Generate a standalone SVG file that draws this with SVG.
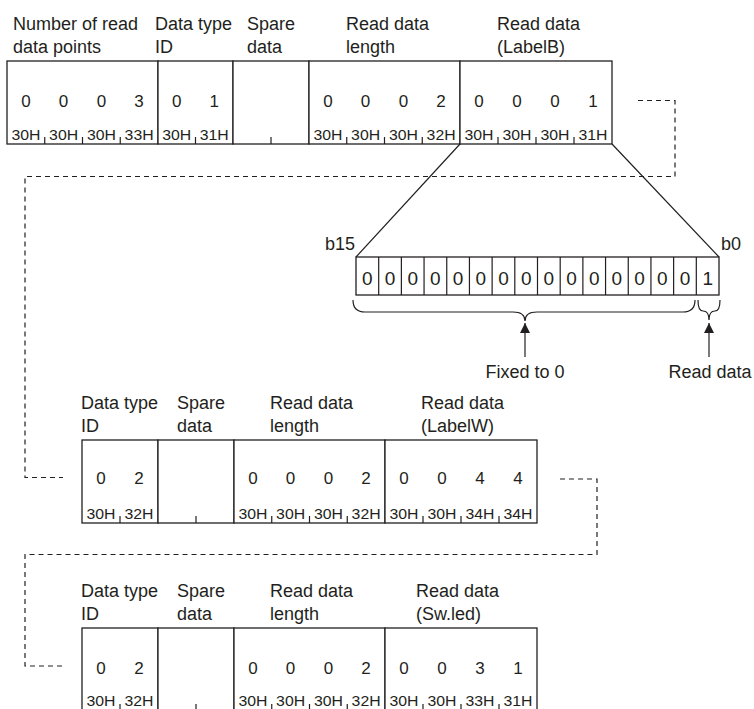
<svg xmlns="http://www.w3.org/2000/svg" width="754" height="709" viewBox="0 0 754 709">
<defs>
<style>
.t{font-family:"Liberation Sans",Arial,sans-serif;font-size:18px;fill:#231f20}
.d{font-family:"Liberation Sans",Arial,sans-serif;font-size:17px;fill:#231f20;text-anchor:middle}
.bd{font-family:"Liberation Sans",Arial,sans-serif;font-size:19px;fill:#231f20;text-anchor:middle}
.h{font-family:"Liberation Sans",Arial,sans-serif;font-size:14px;fill:#231f20;text-anchor:middle}
.box{fill:#fff;stroke:#231f20;stroke-width:1.3}
.ln{fill:none;stroke:#231f20;stroke-width:1.2}
.dash{fill:none;stroke:#231f20;stroke-width:1.2;stroke-dasharray:5 4}
</style>
<marker id="arr" viewBox="0 0 10 10" refX="10" refY="5" markerWidth="10" markerHeight="10" markerUnits="userSpaceOnUse" orient="auto">
<path d="M0,0 L10,5 L0,10 Z" fill="#231f20"/>
</marker>
</defs>
<rect width="754" height="709" fill="#fff"/>

<!-- connectors -->
<g id="connectors">
<path class="dash" d="M638 100.5 H675 V176.5 H25 V477.5 H63"/>
<path class="dash" d="M560 479 H597 V554.5 H25 V666 H63"/>
<line class="ln" x1="460" y1="144" x2="356" y2="257"/>
<line class="ln" x1="612" y1="144" x2="719" y2="257"/>
<path class="ln" d="M353 300 Q353 312 365 312 H513 Q525 312 525 321 Q525 312 537 312 H683 Q695 312 695 300"/>
<path class="ln" d="M698 300 Q698 311 703 311 Q709 311 709 320 Q709 311 715 311 Q720 311 720 300"/>
<line class="ln" x1="525" y1="357" x2="525" y2="323" marker-end="url(#arr)"/>
<line class="ln" x1="709" y1="357" x2="709" y2="323" marker-end="url(#arr)"/>
</g>

<!-- Row 1 -->
<g id="row1-headers">
<text class="t" x="13" y="30">Number of read</text>
<text class="t" x="13" y="53">data points</text>
<text class="t" x="155" y="30">Data type</text>
<text class="t" x="155" y="53">ID</text>
<text class="t" x="247" y="30">Spare</text>
<text class="t" x="247" y="53">data</text>
<text class="t" x="346" y="30">Read data</text>
<text class="t" x="346" y="53">length</text>
<text class="t" x="497" y="30">Read data</text>
<text class="t" x="497" y="53">(LabelB)</text>
</g>
<g id="row1-points">
<rect class="box" x="7" y="61" width="151" height="83"/>
<path class="ln" d="M44.75 144 v-7 M82.5 144 v-7 M120.25 144 v-7"/>
<text class="d" x="25.9" y="107">0</text><text class="d" x="63.6" y="107">0</text><text class="d" x="101.4" y="107">0</text><text class="d" x="139.1" y="107">3</text>
<text class="h" x="25.9" y="140" textLength="29" lengthAdjust="spacingAndGlyphs">30H</text><text class="h" x="63.6" y="140" textLength="29" lengthAdjust="spacingAndGlyphs">30H</text><text class="h" x="101.4" y="140" textLength="29" lengthAdjust="spacingAndGlyphs">30H</text><text class="h" x="139.1" y="140" textLength="29" lengthAdjust="spacingAndGlyphs">33H</text>
</g>
<g id="row1-type">
<rect class="box" x="158" y="61" width="75" height="83"/>
<path class="ln" d="M195.5 144 v-7"/>
<text class="d" x="176.75" y="107">0</text><text class="d" x="214.25" y="107">1</text>
<text class="h" x="176.75" y="140" textLength="29" lengthAdjust="spacingAndGlyphs">30H</text><text class="h" x="214.25" y="140" textLength="29" lengthAdjust="spacingAndGlyphs">31H</text>
</g>
<g id="row1-spare">
<rect class="box" x="233" y="61" width="76" height="83"/>
<path class="ln" d="M271 144 v-7"/>
</g>
<g id="row1-length">
<rect class="box" x="309" y="61" width="151" height="83"/>
<path class="ln" d="M346.75 144 v-7 M384.5 144 v-7 M422.25 144 v-7"/>
<text class="d" x="327.9" y="107">0</text><text class="d" x="365.6" y="107">0</text><text class="d" x="403.4" y="107">0</text><text class="d" x="441.1" y="107">2</text>
<text class="h" x="327.9" y="140" textLength="29" lengthAdjust="spacingAndGlyphs">30H</text><text class="h" x="365.6" y="140" textLength="29" lengthAdjust="spacingAndGlyphs">30H</text><text class="h" x="403.4" y="140" textLength="29" lengthAdjust="spacingAndGlyphs">30H</text><text class="h" x="441.1" y="140" textLength="29" lengthAdjust="spacingAndGlyphs">32H</text>
</g>
<g id="row1-labelB">
<rect class="box" x="460" y="61" width="152" height="83"/>
<path class="ln" d="M498 144 v-7 M536 144 v-7 M574 144 v-7"/>
<text class="d" x="479" y="107">0</text><text class="d" x="517" y="107">0</text><text class="d" x="555" y="107">0</text><text class="d" x="593" y="107">1</text>
<text class="h" x="479" y="140" textLength="29" lengthAdjust="spacingAndGlyphs">30H</text><text class="h" x="517" y="140" textLength="29" lengthAdjust="spacingAndGlyphs">30H</text><text class="h" x="555" y="140" textLength="29" lengthAdjust="spacingAndGlyphs">30H</text><text class="h" x="593" y="140" textLength="29" lengthAdjust="spacingAndGlyphs">31H</text>
</g>

<!-- bit detail -->
<g id="bits">
<text class="t" x="355" y="250" text-anchor="end">b15</text>
<text class="t" x="721" y="250">b0</text>
<rect class="box" x="356" y="257" width="363" height="38"/>
<path class="ln" d="M378.69 257 v38 M401.38 257 v38 M424.06 257 v38 M446.75 257 v38 M469.44 257 v38 M492.13 257 v38 M514.81 257 v38 M537.5 257 v38 M560.19 257 v38 M582.88 257 v38 M605.56 257 v38 M628.25 257 v38 M650.94 257 v38 M673.63 257 v38 M696.31 257 v38"/>
<text class="bd" x="367.3" y="284.5">0</text><text class="bd" x="390" y="284.5">0</text><text class="bd" x="412.7" y="284.5">0</text><text class="bd" x="435.4" y="284.5">0</text><text class="bd" x="458.1" y="284.5">0</text><text class="bd" x="480.8" y="284.5">0</text><text class="bd" x="503.5" y="284.5">0</text><text class="bd" x="526.2" y="284.5">0</text><text class="bd" x="548.8" y="284.5">0</text><text class="bd" x="571.5" y="284.5">0</text><text class="bd" x="594.2" y="284.5">0</text><text class="bd" x="616.9" y="284.5">0</text><text class="bd" x="639.6" y="284.5">0</text><text class="bd" x="662.3" y="284.5">0</text><text class="bd" x="685" y="284.5">0</text><text class="bd" x="707.7" y="284.5">1</text>
<text class="t" x="525" y="378" text-anchor="middle">Fixed to 0</text>
<text class="t" x="710" y="378" text-anchor="middle">Read data</text>
</g>

<!-- Row 2 -->
<g id="row2-headers">
<text class="t" x="81" y="409">Data type</text>
<text class="t" x="81" y="432">ID</text>
<text class="t" x="177" y="409">Spare</text>
<text class="t" x="177" y="432">data</text>
<text class="t" x="270" y="409">Read data</text>
<text class="t" x="270" y="432">length</text>
<text class="t" x="421" y="409">Read data</text>
<text class="t" x="421" y="432">(LabelW)</text>
</g>
<g id="row2-type">
<rect class="box" x="82" y="440" width="76" height="83"/>
<path class="ln" d="M120 523 v-7"/>
<text class="d" x="101" y="484">0</text><text class="d" x="139" y="484">2</text>
<text class="h" x="101" y="519" textLength="29" lengthAdjust="spacingAndGlyphs">30H</text><text class="h" x="139" y="519" textLength="29" lengthAdjust="spacingAndGlyphs">32H</text>
</g>
<g id="row2-spare">
<rect class="box" x="158" y="440" width="76" height="83"/>
<path class="ln" d="M196 523 v-7"/>
</g>
<g id="row2-length">
<rect class="box" x="234" y="440" width="151" height="83"/>
<path class="ln" d="M271.75 523 v-7 M309.5 523 v-7 M347.25 523 v-7"/>
<text class="d" x="252.9" y="484">0</text><text class="d" x="290.6" y="484">0</text><text class="d" x="328.4" y="484">0</text><text class="d" x="366.1" y="484">2</text>
<text class="h" x="252.9" y="519" textLength="29" lengthAdjust="spacingAndGlyphs">30H</text><text class="h" x="290.6" y="519" textLength="29" lengthAdjust="spacingAndGlyphs">30H</text><text class="h" x="328.4" y="519" textLength="29" lengthAdjust="spacingAndGlyphs">30H</text><text class="h" x="366.1" y="519" textLength="29" lengthAdjust="spacingAndGlyphs">32H</text>
</g>
<g id="row2-labelW">
<rect class="box" x="385" y="440" width="152" height="83"/>
<path class="ln" d="M423 523 v-7 M461 523 v-7 M499 523 v-7"/>
<text class="d" x="404" y="484">0</text><text class="d" x="442" y="484">0</text><text class="d" x="480" y="484">4</text><text class="d" x="518" y="484">4</text>
<text class="h" x="404" y="519" textLength="29" lengthAdjust="spacingAndGlyphs">30H</text><text class="h" x="442" y="519" textLength="29" lengthAdjust="spacingAndGlyphs">30H</text><text class="h" x="480" y="519" textLength="29" lengthAdjust="spacingAndGlyphs">34H</text><text class="h" x="518" y="519" textLength="29" lengthAdjust="spacingAndGlyphs">34H</text>
</g>

<!-- Row 3 -->
<g id="row3-headers">
<text class="t" x="81" y="597">Data type</text>
<text class="t" x="81" y="620">ID</text>
<text class="t" x="177" y="597">Spare</text>
<text class="t" x="177" y="620">data</text>
<text class="t" x="270" y="597">Read data</text>
<text class="t" x="270" y="620">length</text>
<text class="t" x="416" y="597">Read data</text>
<text class="t" x="416" y="620">(Sw.led)</text>
</g>
<g id="row3-type">
<rect class="box" x="82" y="628" width="76" height="83"/>
<path class="ln" d="M120 711 v-7"/>
<text class="d" x="101" y="674">0</text><text class="d" x="139" y="674">2</text>
<text class="h" x="101" y="706" textLength="29" lengthAdjust="spacingAndGlyphs">30H</text><text class="h" x="139" y="706" textLength="29" lengthAdjust="spacingAndGlyphs">32H</text>
</g>
<g id="row3-spare">
<rect class="box" x="158" y="628" width="76" height="83"/>
<path class="ln" d="M196 711 v-7"/>
</g>
<g id="row3-length">
<rect class="box" x="234" y="628" width="151" height="83"/>
<path class="ln" d="M271.75 711 v-7 M309.5 711 v-7 M347.25 711 v-7"/>
<text class="d" x="252.9" y="674">0</text><text class="d" x="290.6" y="674">0</text><text class="d" x="328.4" y="674">0</text><text class="d" x="366.1" y="674">2</text>
<text class="h" x="252.9" y="706" textLength="29" lengthAdjust="spacingAndGlyphs">30H</text><text class="h" x="290.6" y="706" textLength="29" lengthAdjust="spacingAndGlyphs">30H</text><text class="h" x="328.4" y="706" textLength="29" lengthAdjust="spacingAndGlyphs">30H</text><text class="h" x="366.1" y="706" textLength="29" lengthAdjust="spacingAndGlyphs">32H</text>
</g>
<g id="row3-swled">
<rect class="box" x="385" y="628" width="152" height="83"/>
<path class="ln" d="M423 711 v-7 M461 711 v-7 M499 711 v-7"/>
<text class="d" x="404" y="674">0</text><text class="d" x="442" y="674">0</text><text class="d" x="480" y="674">3</text><text class="d" x="518" y="674">1</text>
<text class="h" x="404" y="706" textLength="29" lengthAdjust="spacingAndGlyphs">30H</text><text class="h" x="442" y="706" textLength="29" lengthAdjust="spacingAndGlyphs">30H</text><text class="h" x="480" y="706" textLength="29" lengthAdjust="spacingAndGlyphs">33H</text><text class="h" x="518" y="706" textLength="29" lengthAdjust="spacingAndGlyphs">31H</text>
</g>
</svg>
